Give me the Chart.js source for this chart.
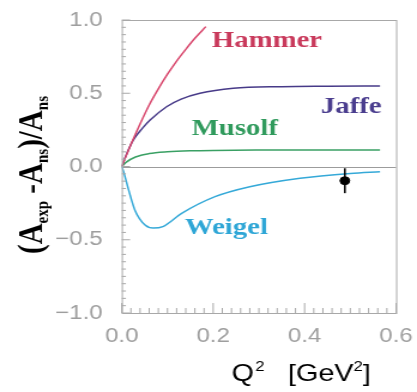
<!DOCTYPE html>
<html>
<head>
<meta charset="utf-8">
<script src="https://cdn.jsdelivr.net/npm/chart.js@4"></script>
<style>
  html, body { margin: 0; padding: 0; background: #fff; overflow: hidden; }
  /* the original figure is stretched sideways, so the whole canvas is too */
  #wrap { width: 348px; height: 392px; transform: scaleX(1.1983); transform-origin: 0 0; }
</style>
</head>
<body>
<div id="wrap"><canvas id="chart" width="348" height="392"></canvas></div>
<script>
// Model curves (Q^2 in GeV^2)
const hammerQ2 = [0, 0.02, 0.04, 0.06, 0.08, 0.1, 0.12, 0.14, 0.16, 0.184];
const hammerA  = [0, 0.15, 0.29, 0.42, 0.53, 0.63, 0.72, 0.8, 0.875, 0.955];

const jaffeQ2 = [0, 0.01, 0.025, 0.045, 0.062, 0.098, 0.13, 0.171, 0.244, 0.35, 0.45, 0.565];
const jaffeA  = [0, 0.08, 0.18, 0.26, 0.317, 0.408, 0.46, 0.5, 0.534, 0.545, 0.548, 0.55];

const musolfQ2 = [0, 0.01, 0.03, 0.06, 0.1, 0.15, 0.2, 0.3, 0.565];
const musolfA  = [0, 0.03, 0.065, 0.088, 0.1, 0.107, 0.11, 0.112, 0.113];

const weigelQ2 = [0, 0.004, 0.015, 0.029, 0.051, 0.069, 0.09, 0.131, 0.204, 0.28, 0.39, 0.5, 0.565];
const weigelA  = [0, -0.035, -0.16, -0.3, -0.4, -0.42, -0.41, -0.32, -0.206, -0.138, -0.08, -0.047, -0.035];

// measured point with its error bar
const dataQ2 = [0.488];
const dataA = [-0.097];
const dataErr = [0.085];

const xTickLabels = ['0.0', '0.2', '0.4', '0.6'];
const yTickLabels = ['\u22121.0', '\u22120.5', '0.0', '0.5', '1.0'];

function pts(xs, ys) {
  return xs.map((x, i) => ({ x: x, y: ys[i] }));
}

function near(v, step) {
  return Math.abs(v / step - Math.round(v / step)) < 1e-6;
}

// box, zero line and inward tick marks
const framePlugin = {
  id: 'frame',
  beforeDatasetsDraw(chart) {
    const { ctx, chartArea: a, scales: { y } } = chart;
    const y0 = Math.round(y.getPixelForValue(0)) + 0.5;
    ctx.save();
    ctx.strokeStyle = '#9c9c9c';
    ctx.lineWidth = 1;
    ctx.beginPath();
    ctx.moveTo(a.left, y0);
    ctx.lineTo(a.right, y0);
    ctx.stroke();
    ctx.restore();
  },
  afterDraw(chart) {
    const { ctx, chartArea: a, scales: { x, y } } = chart;
    ctx.save();
    ctx.strokeStyle = '#a8a8a8';
    ctx.lineWidth = 1;
    ctx.strokeRect(a.left + 0.5, a.top + 0.5, a.right - a.left, a.bottom - a.top);
    ctx.beginPath();
    x.ticks.forEach(t => {
      const px = x.getPixelForValue(t.value);
      const len = near(t.value, 0.2) ? 10 : 5;
      ctx.moveTo(px, a.bottom);
      ctx.lineTo(px, a.bottom - len);
    });
    y.ticks.forEach(t => {
      const py = y.getPixelForValue(t.value);
      const len = near(t.value, 0.5) ? 7 : 3.5;
      ctx.moveTo(a.left, py);
      ctx.lineTo(a.left + len, py);
    });
    ctx.stroke();
    ctx.restore();
  }
};

// error bar on the measured point
const errorPlugin = {
  id: 'errbar',
  afterDatasetsDraw(chart) {
    const { ctx, scales: { x, y } } = chart;
    ctx.save();
    ctx.strokeStyle = '#000';
    ctx.lineWidth = 1.6;
    dataQ2.forEach((q, i) => {
      const px = x.getPixelForValue(q);
      ctx.beginPath();
      ctx.moveTo(px, y.getPixelForValue(dataA[i] + dataErr[i]));
      ctx.lineTo(px, y.getPixelForValue(dataA[i] - dataErr[i]));
      ctx.stroke();
    });
    ctx.restore();
  }
};

// curve names and axis titles
const textPlugin = {
  id: 'texts',
  afterDraw(chart) {
    const { ctx, chartArea: a, scales: { x, y } } = chart;
    ctx.save();
    ctx.font = 'bold 24px "Liberation Serif", "DejaVu Serif", serif';
    ctx.textBaseline = 'alphabetic';
    const names = [
      { t: 'Hammer', q: 0.197, v: 0.818, c: '#c93a5c', al: 'left' },
      { t: 'Jaffe', q: 0.568, v: 0.362, c: '#4a3d8e', al: 'right' },
      { t: 'Musolf', q: 0.153, v: 0.215, c: '#2f9a5c', al: 'left' },
      { t: 'Weigel', q: 0.138, v: -0.46, c: '#2ea6d6', al: 'left' }
    ];
    names.forEach(n => {
      ctx.fillStyle = n.c;
      ctx.textAlign = n.al;
      ctx.fillText(n.t, x.getPixelForValue(n.q), y.getPixelForValue(n.v));
    });

    // x title: Q^2 [GeV^2]
    ctx.fillStyle = '#000';
    ctx.textAlign = 'left';
    const big = '24px "Liberation Sans", Arial, sans-serif';
    const sup = '14px "Liberation Sans", Arial, sans-serif';
    let cx = a.left + 91.7;
    const by = 381;
    ctx.font = big; ctx.fillText('Q', cx, by); cx += ctx.measureText('Q').width + 1;
    ctx.font = sup; ctx.fillText('2', cx, by - 10);
    cx = a.left + 138.7;
    ctx.font = big; ctx.fillText('[GeV', cx, by); cx += ctx.measureText('[GeV').width;
    ctx.font = sup; ctx.fillText('2', cx, by - 10); cx += ctx.measureText('2').width;
    ctx.font = big; ctx.fillText(']', cx, by);

    // y title: (A_exp -A_ns)/A_ns, rotated
    const parts = [
      ['(A', false], ['exp', true], [' -A', false], ['ns', true], [')/A', false], ['ns', true]
    ];
    const mainF = 'bold 29px "Liberation Serif", "DejaVu Serif", serif';
    const subF = 'bold 15px "Liberation Serif", "DejaVu Serif", serif';
    let total = 0;
    parts.forEach(p => { ctx.font = p[1] ? subF : mainF; total += ctx.measureText(p[0]).width; });
    ctx.translate(35, 175 + total / 2);
    ctx.rotate(-Math.PI / 2);
    let lx = 0;
    parts.forEach(p => {
      ctx.font = p[1] ? subF : mainF;
      ctx.fillText(p[0], lx, p[1] ? 5 : 0);
      lx += ctx.measureText(p[0]).width;
    });
    ctx.restore();
  }
};

const tickFont = { family: '"Liberation Sans", Arial, sans-serif', size: 20 };

const line = (label, xs, ys, color) => ({
  type: 'line',
  label: label,
  data: pts(xs, ys),
  borderColor: color,
  borderWidth: 1.5,
  pointRadius: 0,
  fill: false,
  cubicInterpolationMode: 'monotone'
});

new Chart(document.getElementById('chart'), {
  type: 'line',
  data: {
    datasets: [
      line('Hammer', hammerQ2, hammerA, '#d8466c'),
      line('Jaffe', jaffeQ2, jaffeA, '#473a88'),
      line('Musolf', musolfQ2, musolfA, '#3aa064'),
      line('Weigel', weigelQ2, weigelA, '#35a9d8'),
      {
        type: 'scatter',
        label: 'data',
        data: pts(dataQ2, dataA),
        backgroundColor: '#000',
        borderColor: '#000',
        pointRadius: 4
      }
    ]
  },
  options: {
    responsive: false,
    animation: false,
    layout: { padding: { left: 0, right: 17.5, top: 20, bottom: 0 } },
    plugins: {
      legend: { display: false },
      tooltip: { enabled: false }
    },
    scales: {
      x: {
        type: 'linear',
        min: 0,
        max: 0.6,
        grid: { display: false, drawTicks: false },
        border: { display: false },
        afterFit(scale) {
          scale.height = 79;
          scale.paddingLeft = 0;
          scale.paddingRight = 0;
        },
        ticks: {
          stepSize: 0.02,
          autoSkip: false,
          maxRotation: 0,
          padding: 11,
          color: '#9e9e9e',
          font: tickFont,
          callback: v => near(v, 0.2) ? xTickLabels[Math.round(v / 0.2)] : ''
        }
      },
      y: {
        type: 'linear',
        min: -1,
        max: 1,
        grid: { display: false, drawTicks: false },
        border: { display: false },
        afterFit(scale) {
          scale.width = 101.6;
          scale.paddingTop = 0;
          scale.paddingBottom = 0;
        },
        ticks: {
          stepSize: 0.05,
          autoSkip: false,
          padding: 16,
          color: '#9e9e9e',
          font: tickFont,
          callback: v => near(v, 0.5) ? yTickLabels[Math.round((v + 1) / 0.5)] : ''
        }
      }
    }
  },
  plugins: [framePlugin, errorPlugin, textPlugin]
});
</script>
</body>
</html>
